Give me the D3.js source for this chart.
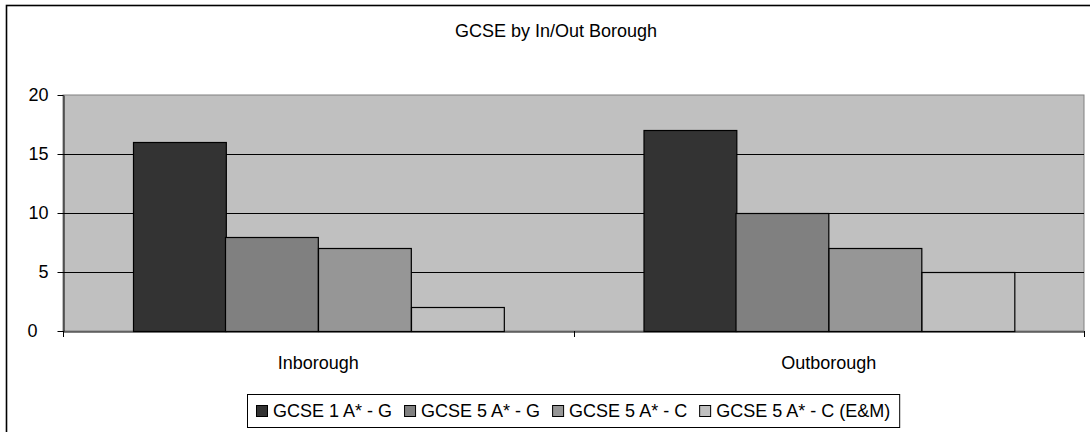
<!DOCTYPE html>
<html><head><meta charset="utf-8">
<script src="https://cdn.jsdelivr.net/npm/d3@7"></script>
<style>
body{margin:0;background:#fff;}
svg{display:block;font-family:"Liberation Sans",Arial,sans-serif;}
</style></head>
<body><svg id="c" width="1090" height="432"></svg>
<script>
const categories = ["Inborough", "Outborough"];
const seriesNames = ["GCSE 1 A* - G", "GCSE 5 A* - G", "GCSE 5 A* - C", "GCSE 5 A* - C (E&M)"];
const inborough = [16, 8, 7, 2];
const outborough = [17, 10, 7, 5];
const yTicks = [0, 5, 10, 15, 20];
const colors = ["#333333", "#808080", "#969696", "#c0c0c0"];
const title = "GCSE by In/Out Borough";

const values = [inborough, outborough];
const svg = d3.select("#c");
const m = {left: 63, right: 1084, top: 95, bottom: 331};
const FS = 18;

// chart area border (extends past the image on right/bottom)
svg.append("rect").attr("x", 6.5).attr("y", 5.5).attr("width", 1140).attr("height", 480)
  .attr("fill", "#fff").attr("stroke", "#000").attr("stroke-width", 1.6);

const x0 = d3.scaleBand().domain(categories).range([m.left, m.right]);
const bw = x0.bandwidth();
const gap = bw * 1.5 / (4 + 1.5);
const x1 = d3.scaleBand().domain(seriesNames).range([gap / 2, bw - gap / 2]);
const y = d3.scaleLinear().domain([0, 20]).range([m.bottom, m.top]);

// plot background
svg.append("rect").attr("x", m.left).attr("y", m.top).attr("width", m.right - m.left)
  .attr("height", m.bottom - m.top).attr("fill", "#c0c0c0").attr("stroke", "#808080").attr("stroke-width", 1);

// gridlines
svg.append("g").selectAll("line").data(yTicks.filter(t => t > 0 && t < 20)).join("line")
  .attr("x1", m.left).attr("x2", m.right)
  .attr("y1", d => Math.round(y(d)) + 0.5).attr("y2", d => Math.round(y(d)) + 0.5)
  .attr("stroke", "#000").attr("stroke-width", 1);

// bars
const groups = svg.append("g").selectAll("g").data(categories).join("g")
  .attr("transform", d => `translate(${x0(d)},0)`);
groups.selectAll("rect").data((d, i) => values[i].map((v, j) => ({v, s: seriesNames[j], j})))
  .join("rect")
  .attr("x", d => Math.round(x1(d.s)) + 0.5)
  .attr("width", x1.bandwidth())
  .attr("y", d => Math.round(y(d.v)) + 0.5)
  .attr("height", d => y(0) - Math.round(y(d.v)))
  .attr("fill", d => colors[d.j]).attr("stroke", "#000").attr("stroke-width", 1.2);

// y axis
const yAxis = svg.append("g").attr("transform", `translate(${m.left + 0.5},0)`)
  .call(d3.axisLeft(y).tickValues(yTicks).tickSize(6).tickPadding(9).tickSizeOuter(0));
yAxis.select(".domain").attr("stroke", "#000");
yAxis.selectAll(".tick line").attr("stroke", "#000");
yAxis.selectAll(".tick text").attr("font-size", FS).attr("font-family", "Liberation Sans, Arial, sans-serif").attr("fill", "#000")
  .attr("dx", d => d === 0 ? -11 : 0);

// x axis
const xAxis = svg.append("g").attr("transform", `translate(0,${m.bottom + 0.5})`)
  .call(d3.axisBottom(x0).tickSize(0).tickPadding(25));
xAxis.select(".domain").attr("stroke", "#000");
xAxis.selectAll(".tick text").attr("font-size", FS).attr("font-family", "Liberation Sans, Arial, sans-serif").attr("fill", "#000");
// category boundary ticks
const bounds = [m.left, x0(categories[1]), m.right];
svg.append("g").selectAll("line").data(bounds).join("line")
  .attr("x1", d => Math.round(d) + 0.5).attr("x2", d => Math.round(d) + 0.5)
  .attr("y1", m.bottom).attr("y2", m.bottom + 6).attr("stroke", "#000");

// title
svg.append("text").attr("x", 556).attr("y", 37).attr("text-anchor", "middle")
  .attr("font-size", FS).attr("fill", "#000").text(title);

// legend
const box = svg.append("rect");
const lg = svg.append("g");
let cx = 0;
seriesNames.forEach((s, i) => {
  const g = lg.append("g").attr("transform", `translate(${cx},0)`);
  g.append("rect").attr("x", 0.5).attr("y", -11.5).attr("width", 11).attr("height", 11)
    .attr("fill", colors[i]).attr("stroke", "#000").attr("stroke-width", 1);
  const t = g.append("text").attr("x", 17).attr("y", 0).attr("font-size", FS).attr("fill", "#000").text(s);
  const w = t.node().getComputedTextLength();
  cx += 17 + w + 12;
});
const total = cx - 12;
const lx = Math.round(573 - total / 2);
lg.attr("transform", `translate(${lx},417)`);
box.attr("x", lx - 9 + 0.5).attr("y", 394.5)
  .attr("width", total + 18).attr("height", 33).attr("fill", "#fff").attr("stroke", "#000").attr("stroke-width", 1);
</script></body></html>
